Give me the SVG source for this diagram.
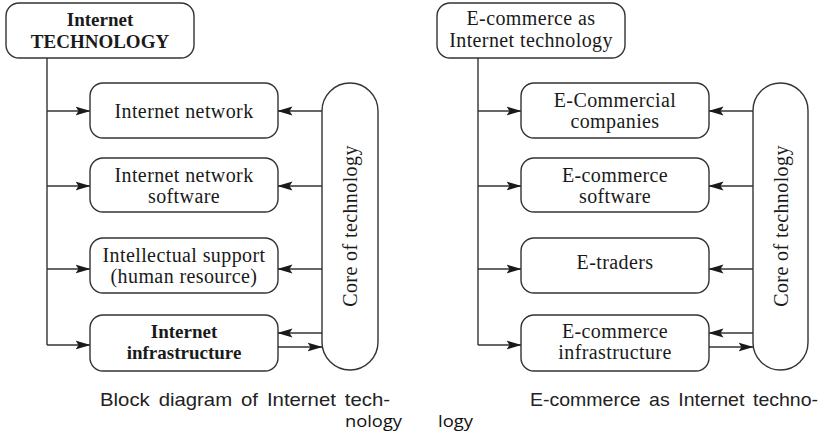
<svg xmlns="http://www.w3.org/2000/svg" width="831" height="436" viewBox="0 0 831 436">
<defs>
<marker id="arr" viewBox="0 0 15 10" refX="14.5" refY="5" markerWidth="15" markerHeight="10" markerUnits="userSpaceOnUse" orient="auto">
<path d="M0,0.5 L15,5 L0,9.5 L3,5 Z" fill="#1a1a1a"/>
</marker>
</defs>
<style>
.box{fill:#fff;stroke:#333;stroke-width:1.4}
.ln{fill:none;stroke:#333;stroke-width:1.4}
.t{font-family:"Liberation Serif","Times New Roman",serif;font-size:20px;letter-spacing:0.4px;fill:#1a1a1a;text-anchor:middle}
.b{font-family:"Liberation Serif","Times New Roman",serif;font-size:19px;font-weight:bold;fill:#1a1a1a;text-anchor:middle}
.cap{font-family:"Liberation Sans",Arial,sans-serif;font-size:18.5px;fill:#222}
.cal{font-family:"Open Sans","Noto Sans",sans-serif;font-size:17px;fill:#111}
</style>
<rect width="831" height="436" fill="#fff"/>

<g id="connectors">
<path class="ln" d="M47,58 V345"/>
<path class="ln" d="M47,111 H90" marker-end="url(#arr)"/>
<path class="ln" d="M47,186 H90" marker-end="url(#arr)"/>
<path class="ln" d="M47,269 H90" marker-end="url(#arr)"/>
<path class="ln" d="M47,345 H90" marker-end="url(#arr)"/>
<path class="ln" d="M322,111 H278" marker-end="url(#arr)"/>
<path class="ln" d="M322,186 H278" marker-end="url(#arr)"/>
<path class="ln" d="M322,269 H278" marker-end="url(#arr)"/>
<path class="ln" d="M322,333 H278" marker-end="url(#arr)"/>
<path class="ln" d="M278,347 H322" marker-end="url(#arr)"/>

<path class="ln" d="M478,58 V345"/>
<path class="ln" d="M478,111 H521" marker-end="url(#arr)"/>
<path class="ln" d="M478,186 H521" marker-end="url(#arr)"/>
<path class="ln" d="M478,269 H521" marker-end="url(#arr)"/>
<path class="ln" d="M478,345 H521" marker-end="url(#arr)"/>
<path class="ln" d="M753,111 H709" marker-end="url(#arr)"/>
<path class="ln" d="M753,186 H709" marker-end="url(#arr)"/>
<path class="ln" d="M753,269 H709" marker-end="url(#arr)"/>
<path class="ln" d="M753,333 H709" marker-end="url(#arr)"/>
<path class="ln" d="M709,347 H753" marker-end="url(#arr)"/>
</g>

<g id="left-top">
<rect class="box" x="6" y="3" width="188" height="55" rx="13"/>
<text class="b" x="100" y="26">Internet</text>
<text class="b" x="100" y="48">TECHNOLOGY</text>
</g>
<g id="left-n1">
<rect class="box" x="90" y="83" width="188" height="55" rx="13"/>
<text class="t" x="184" y="118">Internet network</text>
</g>
<g id="left-n2">
<rect class="box" x="90" y="158" width="188" height="54" rx="13"/>
<text class="t" x="184" y="182">Internet network</text>
<text class="t" x="184" y="203">software</text>
</g>
<g id="left-n3">
<rect class="box" x="90" y="238" width="188" height="55" rx="13"/>
<text class="t" x="184" y="262">Intellectual support</text>
<text class="t" x="184" y="283">(human resource)</text>
</g>
<g id="left-n4">
<rect class="box" x="90" y="315" width="188" height="56" rx="13"/>
<text class="b" x="184" y="338">Internet</text>
<text class="b" x="184" y="359">infrastructure</text>
</g>
<g id="left-core">
<rect class="box" x="322" y="83" width="56" height="287" rx="28"/>
<text class="t" transform="translate(357,226) rotate(-90)">Core of technology</text>
</g>

<g id="right-top">
<rect class="box" x="437" y="3" width="188" height="55" rx="13"/>
<text class="t" x="531" y="25">E-commerce as</text>
<text class="t" x="531" y="47">Internet technology</text>
</g>
<g id="right-n1">
<rect class="box" x="521" y="83" width="188" height="55" rx="13"/>
<text class="t" x="615" y="107">E-Commercial</text>
<text class="t" x="615" y="128">companies</text>
</g>
<g id="right-n2">
<rect class="box" x="521" y="158" width="188" height="54" rx="13"/>
<text class="t" x="615" y="182">E-commerce</text>
<text class="t" x="615" y="203">software</text>
</g>
<g id="right-n3">
<rect class="box" x="521" y="238" width="188" height="55" rx="13"/>
<text class="t" x="615" y="269">E-traders</text>
</g>
<g id="right-n4">
<rect class="box" x="521" y="315" width="188" height="56" rx="13"/>
<text class="t" x="615" y="338">E-commerce</text>
<text class="t" x="615" y="359">infrastructure</text>
</g>
<g id="right-core">
<rect class="box" x="753" y="83" width="55" height="287" rx="27.5"/>
<text class="t" transform="translate(788,226) rotate(-90)">Core of technology</text>
</g>

<g id="captions">
<text class="cap" x="100" y="406" textLength="290" lengthAdjust="spacingAndGlyphs" word-spacing="3">Block diagram of Internet tech-</text>
<text class="cal" x="345" y="427" textLength="57" lengthAdjust="spacingAndGlyphs">nology</text>
<text class="cap" x="530" y="406" textLength="288" lengthAdjust="spacingAndGlyphs" word-spacing="3">E-commerce as Internet techno-</text>
<text class="cal" x="438" y="427" textLength="35" lengthAdjust="spacingAndGlyphs">logy</text>
</g>
</svg>
